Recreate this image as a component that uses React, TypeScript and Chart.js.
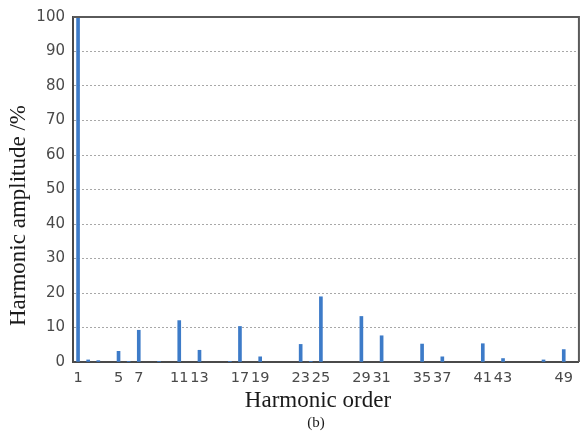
import React, { useEffect, useRef } from "react";
import { Chart, registerables } from "chart.js";

Chart.register(...registerables);

const harmonicOrders = [1, 2, 3, 5, 6, 7, 9, 11, 13, 16, 17, 19, 23, 24, 25, 29, 31, 35, 37, 41, 43, 47, 49];
const amplitudes = [100, 0.6, 0.4, 3.1, 0.2, 9.2, 0.2, 12.0, 3.4, 0.2, 10.3, 1.5, 5.1, 0.2, 18.9, 13.2, 7.6, 5.2, 1.5, 5.3, 1.0, 0.6, 3.6];
const xTickLabels = [1, 5, 7, 11, 13, 17, 19, 23, 25, 29, 31, 35, 37, 41, 43, 49];
const yTitle = "Harmonic amplitude /%";
const xTitle = "Harmonic order";
const caption = "(b)";

const framePlugin = {
  id: "frameAndTitles",
  afterDraw(chart: any) {
    const { ctx, chartArea } = chart;
    const { left, right, top, bottom } = chartArea;
    ctx.save();
    ctx.strokeStyle = "#5a5a5a";
    ctx.lineWidth = 2;
    ctx.beginPath();
    ctx.moveTo(left, top);
    ctx.lineTo(right, top);
    ctx.lineTo(right, bottom);
    ctx.stroke();

    ctx.fillStyle = "#1a1a1a";
    ctx.font = "23px 'Liberation Serif'";
    ctx.textAlign = "center";
    ctx.textBaseline = "alphabetic";
    const cx = (left + right) / 2 - 8;
    ctx.fillText(xTitle, cx, bottom + 45);
    ctx.font = "15px 'Liberation Serif'";
    ctx.fillText(caption, cx - 2, bottom + 65);

    ctx.translate(25, (top + bottom) / 2 + 26);
    ctx.rotate(-Math.PI / 2);
    ctx.font = "23px 'Liberation Serif'";
    ctx.fillText(yTitle, 0, 0);
    ctx.restore();
  },
};

export default function App() {
  const ref = useRef<HTMLCanvasElement>(null);
  useEffect(() => {
    if (!ref.current) return;
    const chart = new Chart(ref.current, {
      type: "bar",
      data: {
        datasets: [
          {
            data: harmonicOrders.map((h, i) => ({ x: h, y: amplitudes[i] })),
            backgroundColor: "#3d7bc8",
            borderWidth: 0,
            barThickness: 3,
          },
        ],
      },
      options: {
        animation: false,
        responsive: false,
        devicePixelRatio: 1,
        layout: { padding: { top: 12, right: 1, left: 0, bottom: 0 } },
        plugins: { legend: { display: false }, tooltip: { enabled: false } },
        scales: {
          x: {
            type: "linear",
            min: 0.5,
            max: 50.5,
            offset: false,
            afterBuildTicks: (scale: any) => {
              scale.ticks = xTickLabels.map((v) => ({ value: v }));
            },
            afterFit: (scale: any) => {
              scale.height = 81;
            },
            grid: { display: false, drawTicks: false, offset: false },
            border: { display: true, color: "#4a4a4a", width: 2 },
            ticks: {
              autoSkip: false,
              maxRotation: 0,
              padding: 8,
              color: "#4a4a4a",
              font: { family: "'DejaVu Sans'", size: 14.5 },
              callback: (v: any) => String(v),
            },
          },
          y: {
            min: 0,
            max: 100,
            afterFit: (scale: any) => {
              scale.width = 73;
            },
            grid: {
              drawTicks: false,
              color: (c: any) => (c.tick && (c.tick.value === 0 || c.tick.value === 100) ? "rgba(0,0,0,0)" : "#a8a8a8"),
              lineWidth: 1,
            },
            border: { display: true, color: "#4a4a4a", width: 2, dash: [2, 2] },
            ticks: {
              stepSize: 10,
              padding: 8,
              color: "#4a4a4a",
              font: { family: "'DejaVu Sans'", size: 15 },
            },
          },
        },
      },
      plugins: [framePlugin],
    });
    return () => chart.destroy();
  }, []);
  return (
    <div style={{ position: "fixed", left: 0, top: 0, width: 581, height: 443, background: "#fff" }}>
      <canvas ref={ref} width={581} height={443} />
    </div>
  );
}
